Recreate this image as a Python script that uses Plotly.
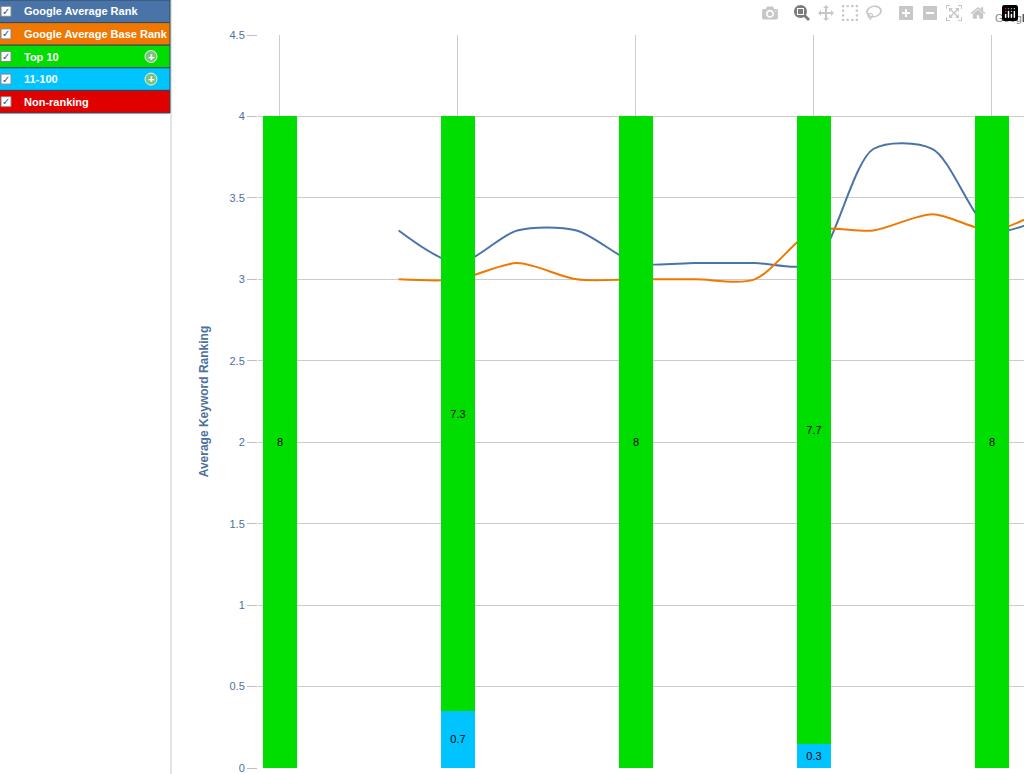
import plotly.graph_objects as go

bar_x = [0, 3, 6, 9, 12]
top10 = [8, 7.3, 8, 7.7, 8]
r11_100 = [0, 0.7, 0, 0.3, 0]
line_x = [2, 3, 4, 5, 6, 7, 8, 9, 10, 11, 12, 13]
avg_rank = [3.3, 3.1, 3.3, 3.3, 3.1, 3.1, 3.1, 3.1, 3.8, 3.8, 3.3, 3.4]
base_rank = [3.0, 3.0, 3.1, 3.0, 3.0, 3.0, 3.0, 3.3, 3.3, 3.4, 3.3, 3.45]
legend_items = ["Google Average Rank", "Google Average Base Rank", "Top 10", "11-100", "Non-ranking"]
legend_colors = ["#4a74a8", "#f07800", "#00dd00", "#00c4ff", "#e00000"]

L, T, B, W, H = 258, 35, 6, 1024, 774
PW, PH = W - L, H - T - B


def px(x):
    return (x - L) / PW


def py(y):
    return (H - B - y) / PH


fig = go.Figure()
fig.add_trace(go.Bar(x=bar_x, y=r11_100, marker_color="#00c4ff", width=0.57, yaxis="y2",
                     text=[str(v) if v else "" for v in r11_100], textposition="inside",
                     insidetextanchor="middle", textfont=dict(color="black", size=11), marker_line_width=0))
fig.add_trace(go.Bar(x=bar_x, y=top10, marker_color="#00dd00", width=0.57, yaxis="y2",
                     text=[str(v) for v in top10], textposition="inside",
                     insidetextanchor="middle", textfont=dict(color="black", size=11), marker_line_width=0))
fig.add_trace(go.Scatter(x=line_x, y=avg_rank, mode="lines", line=dict(color="#4a74a8", width=2, shape="spline", smoothing=0.8)))
fig.add_trace(go.Scatter(x=line_x, y=base_rank, mode="lines", line=dict(color="#f07800", width=2, shape="spline", smoothing=0.8)))

shapes = [dict(type="line", xref="paper", yref="paper", x0=px(171), x1=px(171), y0=py(774), y1=py(0),
               line=dict(color="#c8c8c8", width=1))]
annotations = [dict(text="Googl", xref="paper", yref="paper", x=px(993), y=py(18), xanchor="left",
                    yanchor="middle", showarrow=False, font=dict(size=11, color="black"))]
RH = 22.6
for i, (t, c) in enumerate(zip(legend_items, legend_colors)):
    top, bot = i * RH, (i + 1) * RH
    yc = py(top + RH / 2)
    shapes.append(dict(type="rect", xref="paper", yref="paper", x0=px(-1), x1=px(170),
                       y0=py(bot), y1=py(top), fillcolor=c, line=dict(color="#2c4a5a", width=1)))
    shapes.append(dict(type="rect", xref="paper", yref="paper", x0=px(1), x1=px(11),
                       y0=py(top + RH / 2 + 5), y1=py(top + RH / 2 - 5), fillcolor="white",
                       line=dict(color="#888888", width=1)))
    annotations.append(dict(text="✓", xref="paper", yref="paper", x=px(6), y=yc, xanchor="center",
                            yanchor="middle", showarrow=False, font=dict(size=10, color="#2050a0")))
    annotations.append(dict(text="<b>" + t + "</b>", xref="paper", yref="paper", x=px(22), y=yc,
                            xanchor="left", yanchor="middle", showarrow=False, font=dict(size=11, color="white")))
    if t in ("Top 10", "11-100"):
        shapes.append(dict(type="circle", xref="paper", yref="paper", x0=px(145), x1=px(157),
                           y0=py(top + RH / 2 + 6), y1=py(top + RH / 2 - 6), fillcolor="#7cc47c",
                           line=dict(color="#e8f5e8", width=1)))
        annotations.append(dict(text="<b>+</b>", xref="paper", yref="paper", x=px(151), y=yc,
                                xanchor="center", yanchor="middle", showarrow=False,
                                font=dict(size=11, color="white")))

fig.update_layout(
    width=W, height=H, margin=dict(l=L, r=0, t=T, b=B),
    plot_bgcolor="white", paper_bgcolor="white", showlegend=False, barmode="stack",
    font=dict(family="Arial, Liberation Sans, sans-serif"),
    xaxis=dict(range=[-0.37, 12.54], tickvals=bar_x, showticklabels=False, showgrid=True,
               gridcolor="#cccccc", zeroline=False, showline=False),
    yaxis=dict(range=[0, 4.5], dtick=0.5, showgrid=True, gridcolor="#cccccc", zeroline=False,
               ticks="outside", ticklen=10, tickcolor="#c0c0c0", tickfont=dict(size=11, color="#4d6fa0"),
               title=dict(text="<b>Average Keyword Ranking</b>", font=dict(size=12, color="#4d6fa0"), standoff=18)),
    yaxis2=dict(range=[0, 9], overlaying="y", visible=False),
    shapes=shapes, annotations=annotations,
)
fig.write_html("out.html", post_script="document.body.style.margin='0px';")
